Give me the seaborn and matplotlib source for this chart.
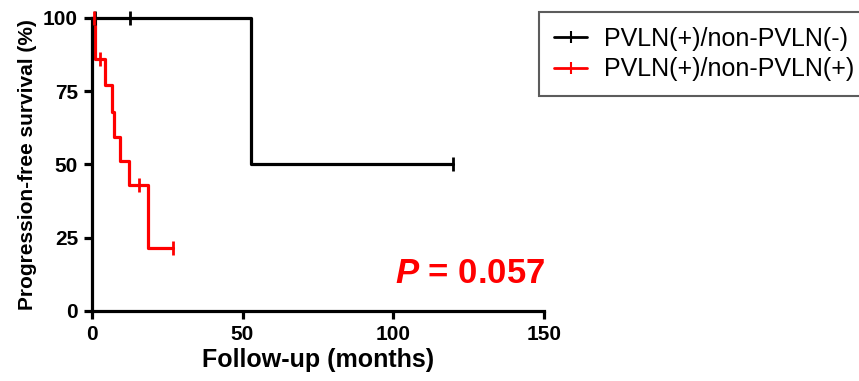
import matplotlib

matplotlib.use("Agg")
import matplotlib.pyplot as plt
from matplotlib.lines import Line2D
import pandas as pd
import seaborn as sns

# Kaplan-Meier step data (months, % progression-free)
neg_times = [0, 52.8, 120]
neg_surv = [100, 50, 50]
neg_censor_t = [1.0, 12.6, 120]
neg_censor_s = [100, 100, 50]

pos_times = [0, 1.0, 4.3, 6.6, 7.3, 9.3, 12.3, 18.6, 26.9]
pos_surv = [100, 86, 77, 68, 59.5, 51, 43, 21.5, 21.5]
pos_censor_t = [0.6, 2.7, 15.6, 26.9]
pos_censor_s = [100, 86, 43, 21.5]

labels = ["PVLN(+)/non-PVLN(-)", "PVLN(+)/non-PVLN(+)"]
colors = ["black", "#ff0000"]

sns.set_theme(style="ticks")
plt.rcParams["font.family"] = ["Liberation Sans", "DejaVu Sans"]
plt.rcParams["mathtext.fontset"] = "custom"
plt.rcParams["mathtext.bfit"] = "Liberation Sans:italic:bold"

fig = plt.figure(figsize=(8.59, 3.81), dpi=100)
ax = fig.add_axes([0.107, 0.184, 0.526, 0.769])

series = [
    (neg_times, neg_surv, neg_censor_t, neg_censor_s),
    (pos_times, pos_surv, pos_censor_t, pos_censor_s),
]
for (t, s, ct, cs), col in zip(series, colors):
    df = pd.DataFrame({"t": t, "s": s})
    sns.lineplot(data=df, x="t", y="s", ax=ax, color=col, linewidth=2.3,
                 drawstyle="steps-post", estimator=None, sort=False,
                 clip_on=False, legend=False)
    cdf = pd.DataFrame({"t": ct, "s": cs})
    sns.scatterplot(data=cdf, x="t", y="s", ax=ax, color=col, marker="|",
                    s=90, linewidth=2, clip_on=False, zorder=3, legend=False)

ax.set_xlim(0, 150)
ax.set_ylim(0, 100)
ax.set_xticks([0, 50, 100, 150])
ax.set_yticks([0, 25, 50, 75, 100])
sns.despine(ax=ax)
for sp in ["left", "bottom"]:
    ax.spines[sp].set_linewidth(2.3)
    ax.spines[sp].set_color("black")
ax.tick_params(axis="both", width=2.3, length=6, color="black",
               labelcolor="black", labelsize=15, pad=4)
for lbl in ax.get_xticklabels() + ax.get_yticklabels():
    lbl.set_fontweight("bold")

ax.set_xlabel("Follow-up (months)", fontsize=18, fontweight="bold",
              labelpad=3, color="black")
ax.set_ylabel("Progression-free survival (%)", fontsize=15, fontweight="bold",
              labelpad=4, color="black")

ax.text(1.003, 0.126, r"$\bfit{P}$ = 0.057", transform=ax.transAxes,
        ha="right", va="center", color="#ff0000", fontsize=25,
        fontweight="bold")

handles = [Line2D([], [], color=c, linewidth=2, marker="|", markersize=9,
                  markeredgewidth=1.5) for c in colors]
leg = fig.legend(handles, labels, loc="upper left",
                 bbox_to_anchor=(0.628, 0.968), borderaxespad=0,
                 fontsize=18, frameon=True, fancybox=False,
                 edgecolor="#333333", handlelength=1.3, handletextpad=0.7,
                 borderpad=0.6, labelspacing=0.25)
leg.get_frame().set_linewidth(1.5)
for txt in leg.get_texts():
    txt.set_color("black")

fig.savefig("out.png", dpi=100)
